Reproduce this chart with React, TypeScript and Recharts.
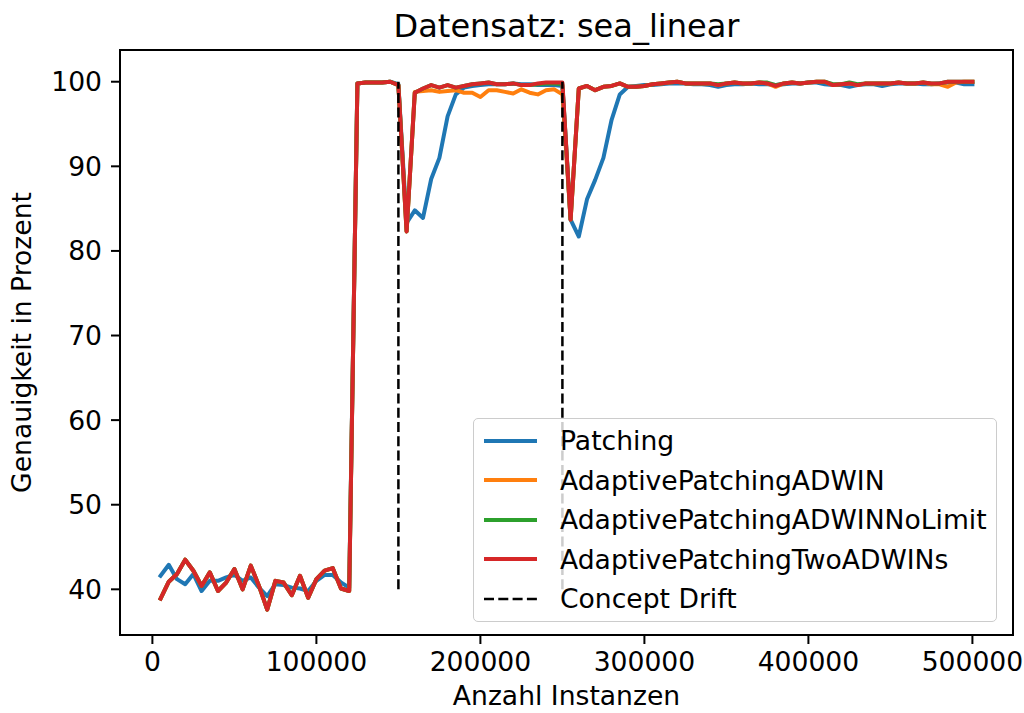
import React from "react";
import {Line, LineChart, ReferenceArea, ReferenceLine, XAxis, YAxis} from "recharts";

// Anzahl Instanzen (x)
const instances = [
    5000, 10000, 15000, 20000, 25000, 30000, 35000, 40000, 45000, 50000,
    55000, 60000, 65000, 70000, 75000, 80000, 85000, 90000, 95000, 100000,
    105000, 110000, 115000, 120000, 125000, 130000, 135000, 140000, 145000, 150000,
    155000, 160000, 165000, 170000, 175000, 180000, 185000, 190000, 195000, 200000,
    205000, 210000, 215000, 220000, 225000, 230000, 235000, 240000, 245000, 250000,
    255000, 260000, 265000, 270000, 275000, 280000, 285000, 290000, 295000, 300000,
    305000, 310000, 315000, 320000, 325000, 330000, 335000, 340000, 345000, 350000,
    355000, 360000, 365000, 370000, 375000, 380000, 385000, 390000, 395000, 400000,
    405000, 410000, 415000, 420000, 425000, 430000, 435000, 440000, 445000, 450000,
    455000, 460000, 465000, 470000, 475000, 480000, 485000, 490000, 495000, 500000,
];

const patching = [
    41.6, 42.9, 41.2, 40.6, 41.8, 39.8, 41.0, 41.0, 41.4, 41.7,
    41.0, 41.4, 40.2, 39.2, 40.6, 40.5, 40.2, 40.1, 39.8, 41.0,
    41.7, 41.7, 40.8, 40.2, 99.8, 99.9, 99.9, 99.9, 100.0, 99.7,
    83.3, 84.8, 83.9, 88.5, 91.0, 95.9, 98.5, 99.3, 99.5, 99.6,
    99.7, 99.7, 99.7, 99.8, 99.7, 99.7, 99.6, 99.6, 99.6, 99.5,
    83.7, 81.7, 86.1, 88.4, 91.0, 95.5, 98.5, 99.4, 99.5, 99.6,
    99.6, 99.7, 99.8, 99.8, 99.8, 99.7, 99.7, 99.6, 99.4, 99.6,
    99.7, 99.7, 99.8, 99.7, 99.7, 99.6, 99.7, 99.8, 99.8, 99.9,
    99.9, 99.7, 99.6, 99.6, 99.4, 99.6, 99.7, 99.7, 99.5, 99.7,
    99.8, 99.8, 99.8, 99.7, 99.7, 99.8, 99.9, 99.9, 99.7, 99.7,
];

const adaptiveAdwin = [
    38.9, 40.9, 41.8, 43.5, 42.2, 40.4, 42.0, 39.8, 40.8, 42.4,
    40.0, 42.8, 40.4, 37.6, 41.0, 40.8, 39.3, 41.6, 39.0, 41.2,
    42.2, 42.5, 40.1, 39.8, 99.8, 99.9, 99.9, 99.9, 100.0, 99.6,
    82.3, 98.8, 98.9, 99.0, 98.8, 98.9, 99.0, 98.7, 98.7, 98.2,
    99.0, 99.0, 98.8, 98.6, 99.1, 98.7, 98.5, 99.0, 99.1, 98.5,
    83.7, 99.2, 99.5, 99.0, 99.4, 99.5, 99.8, 99.4, 99.4, 99.5,
    99.7, 99.8, 99.9, 100.0, 99.8, 99.8, 99.8, 99.8, 99.6, 99.8,
    99.9, 99.8, 99.8, 99.9, 99.8, 99.4, 99.8, 99.9, 99.8, 99.9,
    100.0, 100.0, 99.6, 99.7, 99.8, 99.6, 99.8, 99.8, 99.8, 99.8,
    99.9, 99.8, 99.8, 99.9, 99.7, 99.7, 99.4, 99.9, 100.0, 100.0,
];

const adaptiveAdwinNoLimit = [
    38.9, 40.9, 41.8, 43.5, 42.2, 40.4, 42.0, 39.8, 40.8, 42.4,
    40.0, 42.8, 40.4, 37.6, 41.0, 40.8, 39.3, 41.6, 39.0, 41.2,
    42.2, 42.5, 40.1, 39.8, 99.8, 99.9, 99.9, 99.9, 100.0, 99.6,
    82.3, 98.7, 99.2, 99.6, 99.3, 99.6, 99.3, 99.5, 99.7, 99.8,
    99.9, 99.7, 99.7, 99.8, 99.6, 99.6, 99.7, 99.8, 99.8, 99.7,
    83.7, 99.2, 99.5, 99.0, 99.4, 99.5, 99.8, 99.4, 99.4, 99.5,
    99.7, 99.8, 99.9, 100.0, 99.8, 99.8, 99.8, 99.8, 99.7, 99.8,
    99.9, 99.8, 99.8, 99.9, 99.9, 99.6, 99.8, 99.9, 99.8, 99.9,
    100.0, 100.0, 99.7, 99.7, 99.9, 99.7, 99.8, 99.8, 99.8, 99.8,
    99.9, 99.8, 99.8, 99.9, 99.8, 99.8, 100.0, 100.0, 100.0, 100.0,
];

const adaptiveTwoAdwins = [
    38.9, 40.9, 41.8, 43.5, 42.2, 40.4, 42.0, 39.8, 40.8, 42.4,
    40.0, 42.8, 40.4, 37.6, 41.0, 40.8, 39.3, 41.6, 39.0, 41.2,
    42.2, 42.5, 40.1, 39.8, 99.8, 99.9, 99.9, 99.9, 100.0, 99.6,
    82.3, 98.7, 99.2, 99.6, 99.3, 99.6, 99.3, 99.5, 99.7, 99.8,
    99.9, 99.7, 99.7, 99.8, 99.6, 99.6, 99.8, 99.9, 99.9, 99.9,
    83.7, 99.2, 99.5, 99.0, 99.4, 99.5, 99.8, 99.4, 99.4, 99.5,
    99.7, 99.8, 99.9, 100.0, 99.8, 99.8, 99.8, 99.8, 99.6, 99.8,
    99.9, 99.8, 99.8, 99.9, 99.8, 99.5, 99.8, 99.9, 99.8, 99.9,
    100.0, 100.0, 99.6, 99.7, 99.8, 99.6, 99.8, 99.8, 99.8, 99.8,
    99.9, 99.8, 99.8, 99.9, 99.8, 99.8, 100.0, 100.0, 100.0, 100.0,
];

const seriesNames = ["Patching", "AdaptivePatchingADWIN", "AdaptivePatchingADWINNoLimit", "AdaptivePatchingTwoADWINs"];
const seriesColors = ["#1f77b4", "#ff7f0e", "#2ca02c", "#d62728"];
const seriesValues = [patching, adaptiveAdwin, adaptiveAdwinNoLimit, adaptiveTwoAdwins];

const driftPoints = [150000, 250000];
const driftRange = [40, 100];
const driftLabel = "Concept Drift";

const xTicks = [0, 100000, 200000, 300000, 400000, 500000];
const yTicks = [40, 50, 60, 70, 80, 90, 100];
const xDomain = [-19750, 524750];
const yDomain = [34.6, 103.75];

const chartData = instances.map((x, i) => {
    const row: Record<string, number> = {x};
    seriesNames.forEach((name, s) => {
        row[name] = seriesValues[s][i];
    });
    return row;
});

const font = "DejaVu Sans";
const tickStyle = {fill: "#000", fontSize: 26.6, fontFamily: font};

const ChartLegend = () => (
    <div style={{
        position: "absolute", left: 473, top: 418, width: 522, height: 202,
        border: "1.5px solid #cccccc", borderRadius: 5, background: "rgba(255,255,255,0.8)",
        fontFamily: font, fontSize: 26.6, color: "#000",
    }}>
        {seriesNames.map((name, i) => (
            <div key={name} style={{position: "absolute", left: 0, top: 2 + i * 39.5, height: 39.5, display: "flex", alignItems: "center"}}>
                <svg width={86} height={10}>
                    <line x1={10} x2={63} y1={5} y2={5} stroke={seriesColors[i]} strokeWidth={4}/>
                </svg>
                <span style={{whiteSpace: "nowrap"}}>{name}</span>
            </div>
        ))}
        <div style={{position: "absolute", left: 0, top: 2 + 4 * 39.5, height: 39.5, display: "flex", alignItems: "center"}}>
            <svg width={86} height={10}>
                <line x1={10} x2={63} y1={5} y2={5} stroke="#000" strokeWidth={2.5} strokeDasharray="10 4.3"/>
            </svg>
            <span>{driftLabel}</span>
        </div>
    </div>
);

const App: React.FunctionComponent = () => {
    return (
        <div style={{position: "absolute", left: 0, top: 0, width: 1024, height: 713, background: "#fff"}}>
            <div style={{
                position: "absolute", left: 120, top: 6, width: 893, textAlign: "center",
                fontFamily: font, fontSize: 32, lineHeight: "40px", color: "#000",
            }}>
                Datensatz: sea_linear
            </div>
            <LineChart width={1024} height={713} data={chartData}
                       margin={{top: 50, right: 11, bottom: 0, left: 0}}
                       style={{position: "absolute", left: 0, top: 0}}>
                <XAxis dataKey="x" type="number" domain={xDomain} ticks={xTicks} interval={0}
                       allowDataOverflow height={78}
                       tick={tickStyle} tickSize={9} tickMargin={8}
                       tickLine={{stroke: "#000", strokeWidth: 2}} axisLine={{stroke: "#000", strokeWidth: 2}}
                       label={{value: "Anzahl Instanzen", position: "insideBottom", offset: 8,
                           style: {fill: "#000", fontSize: 26.6, fontFamily: font}}}/>
                <YAxis type="number" domain={yDomain} ticks={yTicks} interval={0}
                       allowDataOverflow width={120}
                       tick={tickStyle} tickSize={9} tickMargin={9}
                       tickLine={{stroke: "#000", strokeWidth: 2}} axisLine={{stroke: "#000", strokeWidth: 2}}
                       label={{value: "Genauigkeit in Prozent", angle: -90, position: "insideLeft", offset: 22,
                           style: {fill: "#000", fontSize: 26.6, fontFamily: font, textAnchor: "middle"}}}/>
                <ReferenceArea x1={xDomain[0]} x2={xDomain[1]} y1={yDomain[0]} y2={yDomain[1]}
                               fill="none" stroke="#000" strokeWidth={2} fillOpacity={0}/>
                {seriesNames.map((name, i) => (
                    <Line key={name} dataKey={name} name={name}
                          stroke={seriesColors[i]}
                          type="linear"
                          dot={false}
                          strokeWidth={4}
                          strokeLinejoin="round"
                          strokeLinecap="square"
                          isAnimationActive={false}/>
                ))}
                {driftPoints.map((d) => (
                    <ReferenceLine key={d}
                                   segment={[{x: d, y: driftRange[0]}, {x: d, y: driftRange[1]}]}
                                   stroke="#000" strokeWidth={2.5} strokeDasharray="10 4.3"/>
                ))}
            </LineChart>
            <ChartLegend/>
        </div>
    );
};

export default App;
